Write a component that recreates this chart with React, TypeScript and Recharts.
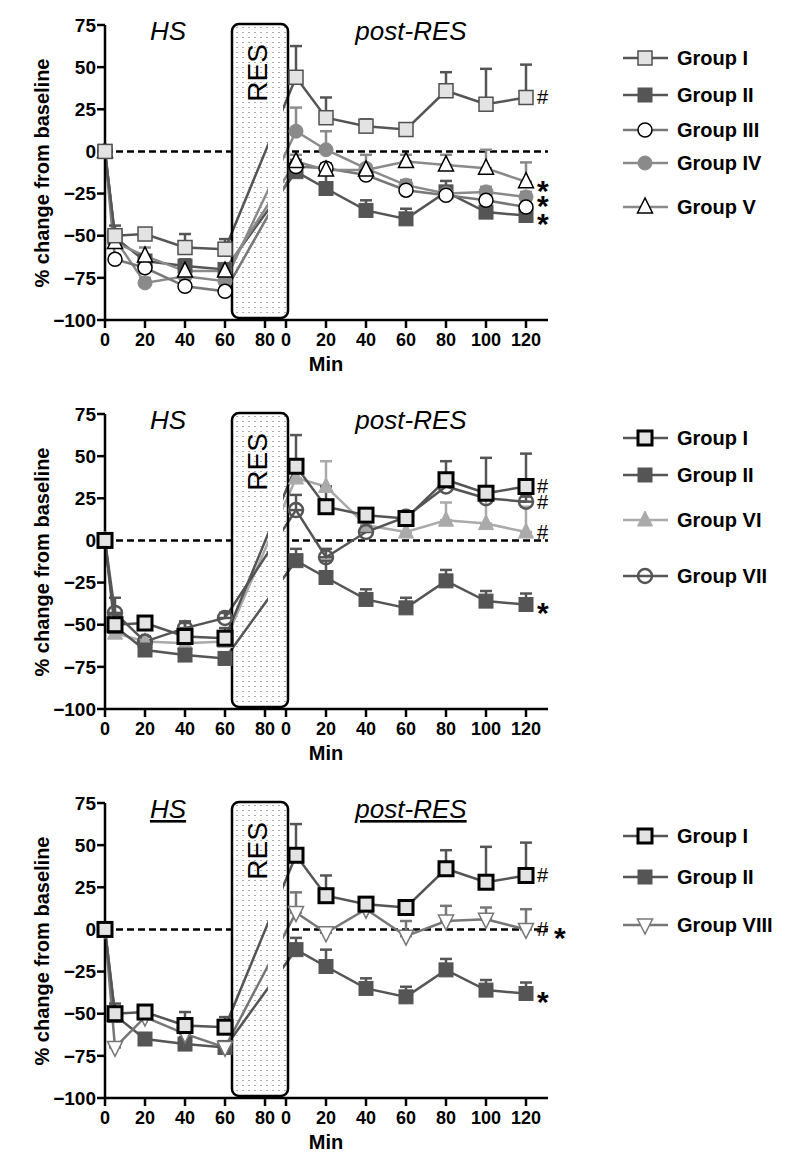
import React from 'react';
import { ComposedChart, Line, XAxis, YAxis, ReferenceLine, ReferenceArea, ErrorBar, LabelList } from 'recharts';

const FONT = '"Liberation Sans", Arial, sans-serif';

// sampling times (min)
const hsTimes = [0, 5, 20, 40, 60];
const postTimes = [5, 20, 40, 60, 80, 100, 120];
const hsTicks = [0, 20, 40, 60, 80];
const postTicks = [0, 20, 40, 60, 80, 100, 120];
const yTicks = [-100, -75, -50, -25, 0, 25, 50, 75];

// % change from baseline, HS phase (means) and upward SEM
const groupIHs = [0, -50, -49, -57, -58];
const groupIHsErr = [0, 6, 3, 8, 6];
const groupIIHs = [0, -51, -65, -68, -70];
const groupIIHsErr = [0, 4, 3, 4, 3];
const groupIIIHs = [0, -64, -69, -80, -83];
const groupIIIHsErr = [0, 2, 2, 2, 2];
const groupIVHs = [0, -52, -78, -74, -77];
const groupIVHsErr = [0, 3, 3, 3, 3];
const groupVHs = [0, -54, -62, -71, -71];
const groupVHsErr = [0, 3, 5, 4, 4];
const groupVIHs = [0, -55, -60, -61, -60];
const groupVIHsErr = [0, 3, 3, 3, 3];
const groupVIIHs = [0, -43, -60, -52, -46];
const groupVIIHsErr = [0, 9, 3, 4, 3];
const groupVIIIHs = [0, -70, -52, -62, -70];
const groupVIIIHsErr = [0, 3, 3, 3, 3];

// % change from baseline, post-RES phase (means) and upward SEM
const groupIPost = [44, 20, 15, 13, 36, 28, 32];
const groupIPostErr = [18.5, 12, 4, 2, 11, 21, 19.5];
const groupIIPost = [-12, -22, -35, -40, -24, -36, -38];
const groupIIPostErr = [7, 10, 6, 6, 6.5, 6, 6.5];
const groupIIIPost = [-9, -10, -14, -23, -26, -29, -33];
const groupIIIPostErr = [3, 3, 3, 3, 2, 2, 2];
const groupIVPost = [12, 1, -10, -20, -25, -24, -27];
const groupIVPostErr = [14, 11, 8, 3, 3, 3, 3];
const groupVPost = [-6, -11, -11, -6, -8, -10, -18];
const groupVPostErr = [4, 3, 3, 4, 6, 11, 11.5];
const groupVIPost = [37, 32, 9, 5, 12, 10, 5];
const groupVIPostErr = [5, 15, 4, 4, 10.5, 15, 15];
const groupVIIPost = [18, -10, 5, 14, 32, 25, 23];
const groupVIIPostErr = [9, 5, 3, 3, 3, 3, 3];
const groupVIIIPost = [10, -2, 12, -4, 5, 6, 0];
const groupVIIIPostErr = [12, 3, 6, 9, 9, 7, 12];

// shared x axis: HS 0-80, a short break, then post-RES 0-120
const POST_START = 90.5;
const X_MAX = 221.5;
const xTicks = [...hsTicks, ...postTicks.map((t) => POST_START + t)];
const fmtX = (v: number) => (v <= 80 ? `${v}` : `${Math.round(v - POST_START)}`);
const fmtY = (v: number) => (v < 0 ? `\u2212${-v}` : `${v}`);

type MarkerStyle = { shape: string; fill: string; stroke: string; sw: number; size: number };

const groups: Record<string, any> = {
  I: { name: 'Group I', hs: groupIHs, hsErr: groupIHsErr, post: groupIPost, postErr: groupIPostErr, line: '#555555',
    marker: { shape: 'square', fill: '#e3e3e3', stroke: '#505050', sw: 1.5, size: 14 } },
  II: { name: 'Group II', hs: groupIIHs, hsErr: groupIIHsErr, post: groupIIPost, postErr: groupIIPostErr, line: '#555555',
    marker: { shape: 'square', fill: '#555555', stroke: '#555555', sw: 1, size: 14 } },
  III: { name: 'Group III', hs: groupIIIHs, hsErr: groupIIIHsErr, post: groupIIIPost, postErr: groupIIIPostErr, line: '#777777',
    marker: { shape: 'circle', fill: '#ffffff', stroke: '#000000', sw: 1.5, size: 14 } },
  IV: { name: 'Group IV', hs: groupIVHs, hsErr: groupIVHsErr, post: groupIVPost, postErr: groupIVPostErr, line: '#8a8a8a',
    marker: { shape: 'circle', fill: '#8a8a8a', stroke: '#8a8a8a', sw: 1, size: 14 } },
  V: { name: 'Group V', hs: groupVHs, hsErr: groupVHsErr, post: groupVPost, postErr: groupVPostErr, line: '#8a8a8a',
    marker: { shape: 'triangle', fill: '#ffffff', stroke: '#000000', sw: 1.5, size: 15 } },
  VI: { name: 'Group VI', hs: groupVIHs, hsErr: groupVIHsErr, post: groupVIPost, postErr: groupVIPostErr, line: '#aaaaaa',
    marker: { shape: 'triangle', fill: '#aaaaaa', stroke: '#aaaaaa', sw: 1, size: 15 } },
  VII: { name: 'Group VII', hs: groupVIIHs, hsErr: groupVIIHsErr, post: groupVIIPost, postErr: groupVIIPostErr, line: '#555555',
    marker: { shape: 'circle', fill: 'none', stroke: '#555555', sw: 2.5, size: 14 } },
  VIII: { name: 'Group VIII', hs: groupVIIIHs, hsErr: groupVIIIHsErr, post: groupVIIIPost, postErr: groupVIIIPostErr, line: '#777777',
    marker: { shape: 'triangleDown', fill: '#ffffff', stroke: '#777777', sw: 1.5, size: 15 } },
};

const boldGroupI: MarkerStyle = { shape: 'square', fill: '#e3e3e3', stroke: '#000000', sw: 3, size: 14 };

const panels = [
  { id: 'a', underline: false, boldI: false,
    series: [['II', '*'], ['IV', '*'], ['III', ''], ['V', '*'], ['I', '#']],
    legend: [['I', 58], ['II', 95], ['III', 130], ['IV', 163], ['V', 207]] },
  { id: 'b', underline: false, boldI: true,
    series: [['VI', '#'], ['II', '*'], ['VII', '#'], ['I', '#']],
    legend: [['I', 49], ['II', 86], ['VI', 131], ['VII', 187]] },
  { id: 'c', underline: true, boldI: true,
    series: [['II', '*'], ['VIII', '# *'], ['I', '#']],
    legend: [['I', 58], ['II', 99], ['VIII', 147]] },
];

const toRows = (g: any, note: string) => [
  ...hsTimes.map((t, i) => ({ x: t, y: g.hs[i], e: [0, g.hsErr[i]] })),
  ...postTimes.map((t, i) => ({
    x: POST_START + t, y: g.post[i], e: [0, g.postErr[i]],
    note: i === postTimes.length - 1 && note ? note : undefined,
  })),
];

function Marker({ cx, cy, m }: { cx: number; cy: number; m: MarkerStyle }) {
  const s = m.size;
  if (cx == null || cy == null) return null;
  if (m.shape === 'square') {
    return <rect x={cx - s / 2} y={cy - s / 2} width={s} height={s} fill={m.fill} stroke={m.stroke} strokeWidth={m.sw} />;
  }
  if (m.shape === 'circle') {
    return <circle cx={cx} cy={cy} r={s / 2} fill={m.fill} stroke={m.stroke} strokeWidth={m.sw} />;
  }
  const d = m.shape === 'triangle' ? 1 : -1;
  const pts = `${cx},${cy - d * s * 0.6} ${cx - s / 2},${cy + d * s * 0.4} ${cx + s / 2},${cy + d * s * 0.4}`;
  return <polygon points={pts} fill={m.fill} stroke={m.stroke} strokeWidth={m.sw} strokeLinejoin="miter" />;
}

// significance marks next to the last post-RES point
const renderNote = (p: any) => {
  if (!p.value) return null;
  const x = (p.viewBox && p.viewBox.x != null ? p.viewBox.x : p.x) + 11;
  const y = p.viewBox && p.viewBox.y != null ? p.viewBox.y : p.y;
  const parts = String(p.value).split(' ');
  let dx = 0;
  return (
    <g>
      {parts.map((s, i) => {
        const el = s === '*'
          ? <text key={i} x={x + dx} y={y + 19} fontSize={30} fontWeight="bold" fontFamily={FONT} fill="#000">*</text>
          : <text key={i} x={x + dx} y={y + 7} fontSize={20} fontFamily={FONT} fill="#000">#</text>;
        dx += s === '*' ? 16 : 17;
        return el;
      })}
    </g>
  );
};

const BoxFill = (id: string) => (p: any) => (
  <rect x={p.x} y={p.y} width={p.width} height={p.height} rx={7} fill={`url(#dots-${id})`} />
);

const BoxOutline = (p: any) => (
  <g>
    <rect x={p.x} y={p.y} width={p.width} height={p.height} rx={7} fill="none" stroke="#000" strokeWidth={2.5} />
    <text
      transform={`translate(${p.x + p.width * 0.46},${p.y + 49}) rotate(-90)`}
      textAnchor="middle" dominantBaseline="central" fontSize={28} fontFamily={FONT} fill="#000"
    >RES</text>
  </g>
);

function Panel({ panel, top }: { panel: any; top: number }) {
  const deco = panel.underline ? 'underline' : 'none';
  return (
    <div style={{ position: 'absolute', left: 0, top, width: 800, height: 389, fontFamily: FONT }}>
      <ComposedChart width={800} height={389} margin={{ top: 25, right: 252, bottom: 39, left: 45 }}>
        <defs>
          <pattern id={`dots-${panel.id}`} width={6} height={5} patternUnits="userSpaceOnUse">
            <rect width={6} height={5} fill="#ffffff" />
            <circle cx={3} cy={2.5} r={0.6} fill="#444" />
          </pattern>
        </defs>
        <XAxis
          type="number" dataKey="x" domain={[0, X_MAX]} ticks={xTicks} interval={0} tickFormatter={fmtX}
          height={30} tickSize={8} tickMargin={5}
          axisLine={{ stroke: '#000', strokeWidth: 2.5 }} tickLine={{ stroke: '#000', strokeWidth: 2.5 }}
          tick={{ fontSize: 18, fontWeight: 'bold', fill: '#000', fontFamily: FONT }}
        />
        <YAxis
          type="number" domain={[-100, 75]} ticks={yTicks} interval={0} tickFormatter={fmtY}
          width={60} tickSize={8} tickMargin={1}
          axisLine={{ stroke: '#000', strokeWidth: 2.5 }} tickLine={{ stroke: '#000', strokeWidth: 2.5 }}
          tick={{ fontSize: 19, fontWeight: 'bold', fill: '#000', fontFamily: FONT }}
        />
        <ReferenceLine y={0} stroke="#000" strokeWidth={2.5} strokeDasharray="7 4" zIndex={-20} />
        <ReferenceArea x1={63.5} x2={91.5} y1={-98.8} y2={75.6} ifOverflow="visible" shape={BoxFill(panel.id)} zIndex={-10} />
        {panel.series.map(([key, note]: [string, string]) => {
          const g = groups[key];
          const m = key === 'I' && panel.boldI ? boldGroupI : g.marker;
          return (
            <Line
              key={key} data={toRows(g, note)} dataKey="y" name={g.name} type="linear"
              stroke={g.line} strokeWidth={2.5} isAnimationActive={false} activeDot={false}
              dot={(p: any) => <Marker key={`${key}-${p.index}`} cx={p.cx} cy={p.cy} m={m} />}
            >
              <ErrorBar dataKey="e" direction="y" width={6} stroke={g.line} strokeWidth={2.5} isAnimationActive={false} />
              <LabelList dataKey="note" content={renderNote} />
            </Line>
          );
        })}
        <ReferenceArea x1={81.5} x2={89} y1={-98.5} y2={75} ifOverflow="visible" fill={`url(#dots-${panel.id})`} fillOpacity={1} stroke="none" zIndex={450} />
        <ReferenceArea x1={63.5} x2={91.5} y1={-98.8} y2={75.6} ifOverflow="visible" shape={BoxOutline} zIndex={460} />
      </ComposedChart>
      <svg width={800} height={389} style={{ position: 'absolute', left: 0, top: 0, pointerEvents: 'none' }}>
        <text transform="translate(42,173) rotate(-90)" textAnchor="middle" dominantBaseline="central"
          fontSize={20} fontWeight="bold" fontFamily={FONT} fill="#000">% change from baseline</text>
        <text x={168} y={40} textAnchor="middle" fontSize={26} fontStyle="italic" fontFamily={FONT}
          fill="#000" textDecoration={deco}>HS</text>
        <text x={411} y={40} textAnchor="middle" fontSize={26} fontStyle="italic" fontFamily={FONT}
          fill="#000" textDecoration={deco}>post-RES</text>
        <text x={326} y={371} textAnchor="middle" fontSize={20} fontWeight="bold" fontFamily={FONT} fill="#000">Min</text>
        {panel.legend.map(([key, y]: [string, number]) => {
          const g = groups[key];
          const m = key === 'I' && panel.boldI ? boldGroupI : g.marker;
          return (
            <g key={key}>
              <line x1={623} x2={668} y1={y} y2={y} stroke={g.line} strokeWidth={2.5} />
              <Marker cx={645} cy={y} m={m} />
              <text x={677} y={y} dominantBaseline="central" fontSize={20} fontWeight="bold" fontFamily={FONT} fill="#000">{g.name}</text>
            </g>
          );
        })}
      </svg>
    </div>
  );
}

export default function App() {
  return (
    <div style={{ position: 'absolute', left: 0, top: 0, width: 800, height: 1161, background: '#fff' }}>
      {panels.map((p, i) => <Panel key={p.id} panel={p} top={i * 389} />)}
    </div>
  );
}
